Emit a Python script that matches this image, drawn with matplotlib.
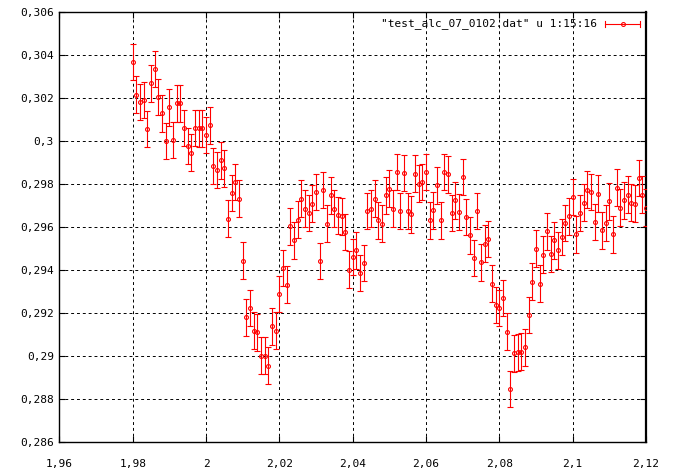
import numpy as np
import matplotlib
matplotlib.use("Agg")
import matplotlib.pyplot as plt
from matplotlib.ticker import FuncFormatter, MultipleLocator

y_values = [
    0.30368, 0.30216, 0.30182, 0.30190, 0.30056, 0.30268, 0.30334, 0.30205, 0.30128, 0.29999,
    0.30156, 0.30004, 0.30175, 0.30175, 0.30061, 0.29977, 0.29946, 0.30061, 0.30058, 0.30058,
    0.30027, 0.30073, 0.29884, 0.29864, 0.29910, 0.29872, 0.29639, 0.29758, 0.29809, 0.29732,
    0.29444, 0.29180, 0.29224, 0.29118, 0.29110, 0.29002, 0.29002, 0.28955, 0.29138, 0.29118,
    0.29289, 0.29410, 0.29332, 0.29603, 0.29538, 0.29634, 0.29732, 0.29685, 0.29665, 0.29709,
    0.29763, 0.29441, 0.29771, 0.29615, 0.29747, 0.29685, 0.29654, 0.29649, 0.29576, 0.29401,
    0.29460, 0.29491, 0.29385, 0.29432, 0.29674, 0.29685, 0.29732, 0.29631, 0.29615, 0.29747,
    0.29778, 0.29685, 0.29856, 0.29674, 0.29851, 0.29674, 0.29659, 0.29848, 0.29802, 0.29809,
    0.29856, 0.29631, 0.29677, 0.29794, 0.29631, 0.29856, 0.29844, 0.29665, 0.29724, 0.29669,
    0.29833, 0.29646, 0.29561, 0.29455, 0.29674, 0.29436, 0.29522, 0.29545, 0.29336, 0.29238,
    0.29224, 0.29269, 0.29113, 0.28846, 0.29012, 0.29017, 0.29020, 0.29040, 0.29191, 0.29346,
    0.29499, 0.29336, 0.29471, 0.29579, 0.29475, 0.29538, 0.29491, 0.29553, 0.29618, 0.29649,
    0.29739, 0.29565, 0.29665, 0.29713, 0.29774, 0.29763, 0.29623, 0.29755, 0.29584, 0.29618,
    0.29719, 0.29565, 0.29783, 0.29690, 0.29724, 0.29750, 0.29713, 0.29709, 0.29828, 0.29750,
    0.29690,
]
x_start, x_end = 1.98, 2.12
y_error = 0.00085  # column 16, roughly the same for every point

legend_label = '"test_alc_07_0102.dat" u 1:15:16'

x_values = np.linspace(x_start, x_end, len(y_values))

plt.rcParams["font.family"] = ["DejaVu Sans Mono"]
plt.rcParams["font.size"] = 8

fig = plt.figure(figsize=(6.75, 4.7), dpi=100)
ax = fig.add_axes([0.088, 0.0596, 0.869, 0.915])

red = "#ff0000"
ax.errorbar(
    x_values, y_values, yerr=y_error,
    fmt="o", ms=2.8, mfc="none", mec=red, mew=0.8,
    ecolor=red, elinewidth=0.8, capsize=2, capthick=0.8,
    color=red, zorder=3,
)

ax.set_xlim(1.96, 2.12)
ax.set_ylim(0.286, 0.306)
ax.xaxis.set_major_locator(MultipleLocator(0.02))
ax.yaxis.set_major_locator(MultipleLocator(0.002))

comma = FuncFormatter(lambda v, pos: f"{round(v, 4):g}".replace(".", ","))
ax.xaxis.set_major_formatter(comma)
ax.yaxis.set_major_formatter(comma)

ax.tick_params(direction="in", top=True, right=True, length=4, width=0.8, colors="black")
ax.tick_params(axis="x", pad=12)
ax.tick_params(axis="y", pad=4)
ax.grid(True, color="black", linestyle=(0, (3, 3)), linewidth=0.7)
for s in ax.spines.values():
    s.set_linewidth(1.0)
ax.spines["right"].set_linewidth(1.6)

# gnuplot style key, top right
tr = ax.transAxes
ax.text(0.9165, 0.972, legend_label, transform=tr, ha="right", va="center")
ax.plot([0.930, 0.990], [0.972, 0.972], transform=tr, color=red, lw=0.8, clip_on=False)
ax.plot([0.930, 0.930], [0.966, 0.978], transform=tr, color=red, lw=0.8, clip_on=False)
ax.plot([0.990, 0.990], [0.966, 0.978], transform=tr, color=red, lw=0.8, clip_on=False)
ax.plot([0.960], [0.972], transform=tr, marker="o", ms=2.8, mfc="none", mec=red, mew=0.8,
        clip_on=False)

fig.savefig("out.png", dpi=100)
